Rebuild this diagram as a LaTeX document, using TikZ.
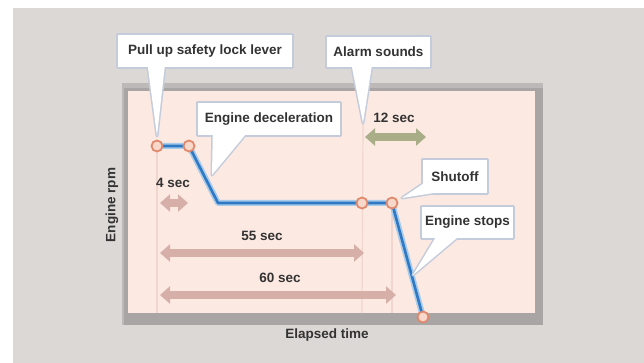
\documentclass[tikz,border=0pt]{standalone}
\usepackage{fontspec}
\setmainfont{Liberation Sans}
\usetikzlibrary{arrows.meta,calc}
\definecolor{bggray}{HTML}{DCD8D5}
\definecolor{framegray}{HTML}{A9A5A5}
\definecolor{framelight}{HTML}{BDB9B9}
\definecolor{chartpink}{HTML}{FCE9E2}
\definecolor{guide}{HTML}{F0D6CE}
\definecolor{linblue}{HTML}{2F78C4}
\definecolor{glowblue}{HTML}{A8CBEA}
\definecolor{ptedge}{HTML}{E0896C}
\definecolor{ptfill}{HTML}{F7D8CA}
\definecolor{arrpink}{HTML}{D6AFA9}
\definecolor{arrgreen}{HTML}{A9AE88}
\definecolor{shadowblue}{HTML}{C4CBDB}
\definecolor{txt}{HTML}{333333}
\tikzset{
  lbl/.style={font=\fontsize{13.5}{16}\selectfont\bfseries, text=txt, inner sep=0pt},
  cbox/.style={rectangle, inner sep=0pt, font=\fontsize{13.5}{16}\selectfont\bfseries, text=txt},
  cshadow/.style={draw=shadowblue, line width=3pt, line join=round, fill=shadowblue},
  cfill/.style={fill=white},
  ptnode/.style={circle, draw=ptedge, fill=ptfill, line width=1.8pt, minimum size=11pt, inner sep=0pt},
  guideline/.style={draw=guide, line width=1.2pt},
  spanarrow/.style={line width=8pt, {Triangle[length=10pt,width=17pt]}-{Triangle[length=10pt,width=17pt]}},
}
\begin{document}
\begin{tikzpicture}[x=1pt,y=-1pt]
\useasboundingbox (0,0) rectangle (644,363);
% background
\fill[white] (0,0) rectangle (644,363);
\fill[bggray] (13,8) rectangle (644,363);
% chart frame
\fill[framelight] (122,83) rectangle (543,325);
\fill[framegray] (124,88) rectangle (543,325);
\fill[chartpink] (128,91) rectangle (535,313);
% key coordinates
\coordinate (c1) at (218,203);
\coordinate (tpull) at (157,136);
\coordinate (tdec) at (212,175);
\coordinate (talarm) at (363,123);
\coordinate (tshut) at (402,198);
\coordinate (tstop) at (413,275);
\coordinate (g1) at (157,313);
\coordinate (g2) at (362,313);
\coordinate (g3) at (392,313);
% guide lines
\draw[guideline] (157,152) -- (g1);
\draw[guideline] (talarm) -- (g2);
\draw[guideline] (392,209) -- (g3);
% span arrows
\coordinate (a4L) at (160,203); \coordinate (a4R) at (188,203);
\coordinate (a55L) at (160,253); \coordinate (a55R) at (364,253);
\coordinate (a60L) at (160,295); \coordinate (a60R) at (396,295);
\coordinate (a12L) at (365,137); \coordinate (a12R) at (426,137);
\draw[spanarrow, arrpink] (a4L) -- (a4R);
\draw[spanarrow, arrpink] (a55L) -- (a55R);
\draw[spanarrow, arrpink] (a60L) -- (a60R);
\draw[spanarrow, arrgreen] (a12L) -- (a12R);
% span labels
\node[lbl] (l4) at (173,183) {4 sec};
\node[lbl] (l12) at (394,118) {12 sec};
\node[lbl] (l55) at (262,236) {55 sec};
\node[lbl] (l60) at (280,278) {60 sec};
% points
\coordinate (p1c) at (157,146);
\coordinate (p2c) at (189,146);
\coordinate (p4c) at (362,203);
\coordinate (p5c) at (392,203);
\coordinate (p6c) at (423,317);
% rpm line
\draw[glowblue, line width=6pt, line join=round] (p1c) -- (p2c) -- (c1) -- (p4c) -- (p5c) -- (p6c);
\draw[linblue, line width=2.6pt, line join=round] (p1c) -- (p2c) -- (c1) -- (p4c) -- (p5c) -- (p6c);
\node[ptnode] (p1) at (p1c) {};
\node[ptnode] (p2) at (p2c) {};
\node[ptnode] (p4) at (p4c) {};
\node[ptnode] (p5) at (p5c) {};
\node[ptnode] (p6) at (p6c) {};
% callout boxes (nodes placed first, shapes drawn behind)
\node[cbox, minimum width=174pt, minimum height=32pt] (pull) at (205,51) {};
\node[cbox, minimum width=103pt, minimum height=30pt] (alarm) at (378.5,52) {};
\node[cbox, minimum width=142pt, minimum height=32pt] (dec) at (269,119) {};
\node[cbox, minimum width=64pt, minimum height=33pt] (shut) at (455,176.5) {};
\node[cbox, minimum width=91pt, minimum height=31pt] (stop) at (467.5,222.5) {};
% shadows
\foreach \st in {cshadow,cfill}{
  \path[\st] (pull.south west) rectangle (pull.north east);
  \path[\st] ($(pull.south west)+(30,-1)$) -- (tpull) -- ($(pull.south west)+(47,-1)$) -- cycle;
  \path[\st] (alarm.south west) rectangle (alarm.north east);
  \path[\st] ($(alarm.south west)+(25,-1)$) -- (talarm) -- ($(alarm.south west)+(45,-1)$) -- cycle;
  \path[\st] (dec.south west) rectangle (dec.north east);
  \path[\st] ($(dec.south west)+(15,-1)$) -- (tdec) -- ($(dec.south west)+(48,-1)$) -- cycle;
  \path[\st] (shut.south west) rectangle (shut.north east);
  \path[\st] ($(shut.south west)+(1,-10)$) -- (tshut) -- ($(shut.south west)+(16,-1)$) -- cycle;
  \path[\st] (stop.south west) rectangle (stop.north east);
  \path[\st] ($(stop.south west)+(14,-1)$) -- (tstop) -- ($(stop.south west)+(36,-1)$) -- cycle;
}
% callout texts
\node[lbl] at (pull) {Pull up safety lock lever};
\node[lbl] at (alarm) {Alarm sounds};
\node[lbl] at (dec) {Engine deceleration};
\node[lbl] at (shut) {Shutoff};
\node[lbl] at (stop) {Engine stops};
% axis labels
\node[lbl, rotate=90] (ylab) at (112,205) {Engine rpm};
\node[lbl] (xlab) at (327,335) {Elapsed time};
\end{tikzpicture}
\end{document}
